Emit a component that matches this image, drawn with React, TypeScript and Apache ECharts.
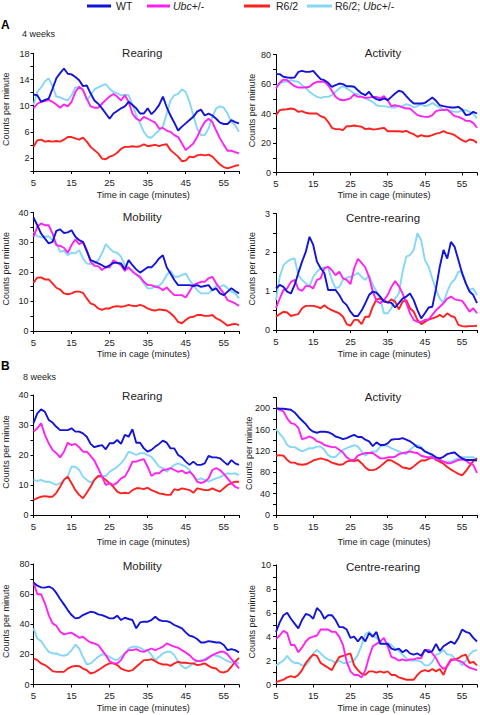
import React, { useEffect, useRef } from "react";
import * as echarts from "echarts";

const minutes = [5, 6, 7, 8, 9, 10, 11, 12, 13, 14, 15, 16, 17, 18, 19, 20, 21, 22, 23, 24, 25, 26, 27, 28, 29, 30, 31, 32, 33, 34, 35, 36, 37, 38, 39, 40, 41, 42, 43, 44, 45, 46, 47, 48, 49, 50, 51, 52, 53, 54, 55, 56, 57, 58, 59];
const xTickLabels = [5, 15, 25, 35, 45, 55];

const seriesNames = ["WT", "Ubc+/-", "R6/2", "R6/2; Ubc+/-"];
const panelTitles = ["Rearing", "Activity", "Mobility", "Centre-rearing", "Rearing", "Activity", "Mobility", "Centre-rearing"];
const yMaxes = [18, 80, 40, 3, 40, 220, 80, 10];
const yTickSteps = [2, 10, 5, 0.5, 5, 20, 10, 1];
const yLabelSteps = [4, 20, 10, 1, 10, 40, 20, 2];
const yLabelStarts = [2, 0, 0, 0, 0, 0, 0, 0];

// 4 weeks - Rearing
const w4RearWT = [11.7,11.6,10.6,10.9,11.1,12.6,14.2,15,15.7,14.9, 14.8,14.4,13.9,13,13.1,11.9,10.8,10.3,9.6,8.8, 8,8.8,9.2,9.6,9.9,10.6,10.1,9.6,8.8,8.8, 9.6,8.7,9.3,10.1,11.4,9.8,8.5,7.4,6.2,6.8, 7.3,7.8,8.3,9.1,9.4,8.5,8.8,8.5,8,7.4, 7.2,7.2,7.8,7.5,7.3];
const w4RearUbc = [9.6,10.3,10.6,10.7,10.9,10.6,10.2,9.7,10.2,9.9, 10.6,12.1,12.9,12.4,11.1,9.9,9.7,9.7,10.3,10.9, 11.4,11.8,11.4,10.8,11.6,10.6,8.8,8,7.7,8.3, 8,7.7,7.4,6.5,6.6,6.2,6,5.5,5.2,4.2, 3.2,3.7,4.2,5.2,6.5,7.5,8,7.5,6.2,5, 4,3.1,3.1,2.9,2.7];
const w4RearR62 = [3.7,4.7,4.8,4.5,4.6,4.5,4.6,4.5,4.8,5.2, 5.2,5,4.8,5.1,4.5,3.7,3.2,2.7,1.9,1.8, 2.2,2.4,2.8,3.4,3.7,3.7,3.8,3.7,3.8,4.1, 3.8,3.9,4,3.8,4,4.1,3.2,2.7,2.2,1.5, 1.6,2.2,2.1,2.4,2.5,2.4,2.5,2.2,1.6,1, 0.6,0.4,0.6,0.8,0.9];
const w4RearR62Ubc = [10.1,12.1,12.8,13.7,14.2,13,11.4,11.3,11,10.8, 11.6,12.8,12.8,12.5,10.8,11.6,12.5,12.8,13.1,13.3, 12.6,12.1,11.9,11.6,11.7,11.6,10.2,8.5,7.3,6, 5.2,5.1,5.7,6.2,6.8,8.8,10.8,11.6,11.8,12.5, 12.1,10.6,8.5,6.5,5.5,5.5,6.5,8.3,9.6,9.9, 9.7,8.8,7.5,7,6];

// 4 weeks - Activity
const w4ActWT = [66.7,66.7,64.9,64.4,64.2,64.4,68.2,68.9,68.2,68.2, 68.9,66,63.3,62.6,60.8,58.1,59.3,60.3,59.9,58.5, 58.5,58.1,55.8,53.6,52.4,54.7,51.3,49.7,49,50.2, 49,51.3,53.6,55.4,54.7,51.8,49,46.8,46.8,46.8, 47.2,49,50.8,48.6,45.6,45,44.5,44.1,44.1,44.5, 42.7,38.9,39.3,41.1,40];
const w4ActUbc = [57,60.8,63,62.6,60.3,58.5,57.6,57.6,57.6,58.1, 60.3,61.5,61.5,61.5,59.2,55.4,51.3,49.5,49,49.5, 50.2,52.9,51.3,51.3,50.6,50.8,51.3,51.3,50.2,51.8, 49,45,45.6,45,44.1,43.4,43.4,41.1,38.9,38.2, 37.7,37.7,38.9,41.6,42.3,42.3,42.7,40.5,38.2,37.7, 36.6,35,35,33.7,30.3];
const w4ActR62 = [38.9,42.3,42.7,42.9,43.4,42.9,41.1,41.6,40.5,40, 40,40,38.2,37.3,34.4,30.3,29.4,29.4,28.7,31.4, 31.4,31.9,31.4,31,29.4,29.8,29.2,29.4,29.8,30.3, 28,28,28,28,27.6,28.2,26.9,26,24.2,25.3, 24.6,24.6,25.3,26.4,26.9,28,26.9,26.4,25.3,23.5, 21.9,20.8,22.4,21.9,20.1];
const w4ActR62Ubc = [58.1,60.3,61.5,61.5,62.6,61.9,61.5,59.2,57.6,54.7, 52.9,51.3,50.6,51.3,51.3,52.4,54.7,57,58.5,57, 55.4,53.6,53.1,51.3,50.2,49,47.9,45.6,45,45, 44.5,44.1,44.1,45,45,46.3,45.6,44.1,45,46.3, 45,45.6,47.2,45.6,44.1,42.7,42.3,41.8,41.1,41.1, 42.3,42.3,41.1,40,36.6];

// 4 weeks - Mobility
const w4MobWT = [38.3,35.7,32.9,31.2,29.6,30.1,33.8,34.3,33.1,33.3, 34,31.8,30.7,30.1,27,23.9,23.4,22.8,22.2,21.5, 22.2,23,23,22.8,20.8,23.9,22.2,20.8,19.7,20.6, 21.5,21.5,22.8,24.5,25.6,21.5,19.4,17.2,15.5,15.5, 15.5,15.5,15.2,15.5,14.9,15.2,15.5,13.8,14.4,12.7, 12.1,13.3,14.4,13.5,12.7];
const w4MobUbc = [31.8,35.2,36.3,35.7,35.7,32.9,29,28.7,28.1,26.4, 29,30.9,29.3,30.1,27.3,23.4,22,21.9,20.6,21.5, 21.5,23.9,23,22.2,20.3,21.5,20,19.1,18.3,16.6, 15.5,15.5,14.9,14.7,13.8,14.7,13.3,12.1,12.1,12.1, 11.3,13.3,15.5,16.1,16.6,16.6,17.8,18.3,16.1,14.4, 12.7,10.4,9.9,9.3,8.5];
const w4MobR62 = [16.3,18,18.1,17.4,17.4,16.1,14.6,14,12.7,12.4, 12.7,13.3,13.3,12.9,11,9.3,8.8,7.6,7.1,7.6, 7.6,8.2,8.4,8.2,8.4,8.8,8.5,8.4,8.8,8.4, 7.6,7.1,6.9,7.3,7.1,6.9,6,4.8,3.1,2.6, 3.7,4.6,4.8,5.4,5.4,5.1,5.1,5.4,4.3,3.7, 2.8,1.8,2.2,2.4,2];
const w4MobR62Ubc = [33.5,32,31.6,31.8,32,30.7,29.6,26.7,27.1,25.6, 26.4,26.2,27.3,24.5,22.8,22.6,22.8,23.9,26.2,29.3, 27.9,26.7,26.4,25.1,22.2,21.1,20.6,18.9,17.8,16.1, 14.4,14.4,15.2,15.2,16.6,18.9,20.3,18.3,18.3,18.9, 19.4,17.2,15.5,13.8,12.7,12.7,12.7,13.8,15.2,14.9, 15.5,14.4,13.3,12.7,11];

// 4 weeks - Centre-rearing
const w4CenWT = [1.07,1.16,1.11,0.99,0.94,1.16,1.47,1.76,2.01,2.4, 2.19,1.76,1.59,1.46,1.03,1.03,1.03,0.9,0.73,0.64, 0.47,0.36,0.36,0.5,0.69,0.9,0.99,0.96,0.86,0.73, 0.71,0.7,0.58,0.69,0.81,0.86,0.94,0.77,0.51,0.3, 0.43,0.58,0.6,1.07,1.63,2.06,1.84,2.27,2.14,1.8, 1.46,1.2,0.99,0.9,0.69];
const w4CenUbc = [0.57,0.81,1.03,1.07,1.24,1.29,1.05,1.01,1.13,1.13, 1.07,1.29,1.33,1.59,1.63,1.54,1.41,1.5,1.33,1.29, 1.18,1.59,1.83,1.73,1.61,1.37,0.99,0.75,0.69,0.77, 0.9,1.11,1.26,1.13,0.94,0.7,0.43,0.26,0.21,0.21, 0.26,0.27,0.39,0.51,0.6,0.69,0.81,0.86,0.79,0.77, 0.75,0.62,0.47,0.56,0.43];
const w4CenR62 = [0.34,0.41,0.47,0.45,0.36,0.39,0.41,0.56,0.62,0.62, 0.62,0.6,0.56,0.64,0.56,0.51,0.47,0.43,0.34,0.15, 0.11,0.26,0.26,0.15,0.34,0.34,0.6,0.79,0.81,0.77, 0.7,0.79,0.73,0.53,0.73,0.77,0.56,0.47,0.26,0.15, 0.21,0.27,0.3,0.33,0.39,0.33,0.43,0.36,0.33,0.13, 0.1,0.09,0.1,0.1,0.11];
const w4CenR62Ubc = [0.77,1.37,1.67,1.76,1.82,1.84,1.41,1.29,1.2,1.13, 1.37,1.5,1.59,1.61,1.61,1.29,1.07,1.11,1.29,1.35, 1.37,1.41,1.47,1.37,1.29,1.41,1.16,0.99,0.81,0.43, 0.43,0.56,0.81,0.94,1.5,1.89,1.93,2.06,2.49,2.31, 1.8,1.63,1.33,1.03,0.81,0.7,0.99,1.2,1.3,1.5, 1.5,1.2,1.03,1.07,0.9];

// 8 weeks - Rearing
const w8RearWT = [30.6,33.9,35.2,34.4,31.7,30.8,29.4,28.3,28.3,28.3, 28.9,27.8,27.8,27.2,26.1,23.7,22.6,23,23.3,21.9, 23.9,23.9,25,23.7,26.7,26.1,28.6,24.1,24.1,22.2, 21.1,21.7,22.8,23.7,24.8,24.1,22.2,22.2,20,19.2, 17.8,16.7,17.8,16.7,16.7,17.2,19.7,19.2,19.2,18.9, 17.8,16.7,18.3,17.2,16.7];
const w8RearUbc = [27.8,28.9,30.6,26.7,23.9,21.7,20.6,19.2,21.1,24.1, 23.3,23.7,22.6,21.1,21.1,19.7,18.1,15.6,12.8,10, 10.6,10,10.8,12.2,12.8,15,17.8,17.8,18.3,18.6, 16.1,13,13.9,13.9,15,15.2,15.6,15,14.4,14.8, 13.9,14.4,13.3,11.1,10.6,11.1,12.2,15,15.6,15, 13.7,12.2,10.6,9.4,8.9];
const w8RearR62 = [5,5.6,6.1,6.3,6.1,6.1,7.4,9.4,11.7,12.8, 10.6,8.3,6.7,5.6,7.4,9.4,11.7,13,12.8,11.7, 10.6,9.4,7.8,7.2,7.4,7.2,8.3,8.9,8.9,8.6, 9.1,8.3,7.8,7.2,7,6.7,6.7,8.6,8.3,8.9, 8.6,8.3,7.4,8.9,8.6,8.3,8.3,8.9,8.3,7.8, 8.9,10,10.6,11.1,11.1];
const w8RearR62Ubc = [11.7,11.4,11.7,11.1,11.1,10.6,10,10.6,11.7,13, 16.1,16.1,15,12.8,11.7,10.8,11.7,12.8,13,13, 14.4,15.2,16.1,17.2,18.9,21.1,20.6,20,20.6,20.6, 20,19.4,17.8,16.1,15.6,14.4,15.6,16.7,17.2,16.7, 16.1,15,12.8,11.7,12.2,11.7,11.1,11.7,12.2,12.6, 13.3,13.9,13.7,13.9,13.3];

// 8 weeks - Activity
const w8ActWT = [200,199,199,198,197,192,184,177,170,161, 156,154,156,156,155,152,147,145,142,144, 147,150,146,146,141,138,129,136,131,131, 134,141,142,142,144,141,138,133,127,125, 119,116,113,108,106,109,114,116,117,111, 106,103,103,103,102];
const w8ActUbc = [200,197,194,181,172,170,163,142,144,147, 144,138,136,131,129,127,127,122,117,108, 103,103,111,114,116,116,116,111,106,106, 108,108,109,114,116,117,119,117,116,111, 109,108,108,104,103,100,97,97,100,103, 104,102,97,94,79];
const w8ActR62 = [111,112,111,103,98,98,95,94,95,98, 102,104,106,104,102,98,96,94,95,100, 102,101,103,97,89,84,84,86,91,97, 103,102,98,94,89,88,86,91,97,102, 102,105,108,103,100,96,90,85,81,77, 74,82,92,101,106];
const w8ActR62Ubc = [161,152,144,131,127,127,123,119,122,125, 125,128,128,122,112,108,109,116,122,125, 128,131,128,119,111,116,119,119,128,131, 129,125,122,119,116,114,122,128,131,127, 119,116,109,106,103,100,100,100,103,106, 108,108,108,108,104];

// 8 weeks - Mobility
const w8MobWT = [67.8,65.6,64.5,64.3,65,63.9,60.8,56.8,53.2,49.4, 46.1,43.9,44.3,46.1,47.2,48.3,47.9,46.6,46.1,45, 43.9,43.9,45.7,42.8,44.3,43.5,42.8,37.3,41.2,41.7, 41.7,42.8,45,42.8,42.1,42.1,41.2,39.5,38.4,37.3, 34.6,32.4,31.7,30.2,27.9,27.9,28.8,28.4,27.9,27.9, 26.2,22.8,23.5,22.8,21.3];
const w8MobUbc = [67.8,59.9,59.9,53.9,46.1,40.6,39,35,33.3,33.9, 34.4,32.8,31,31.7,29.5,27.9,27.3,26.2,22.8,19.5, 15.5,14,14,16.2,20.6,22.8,22.8,23.5,22.2,21.7, 22.8,23.9,22.8,23.9,25.1,27.3,26.2,25.1,24.4,22.8, 21.3,19.5,16.9,15.5,15.5,16.2,17.7,19.5,20.6,21.7, 21.7,20,16.9,14,10.6];
const w8MobR62 = [17.3,16.2,14,12.9,11.1,8.9,8.4,8.4,8.4,10.6, 11.8,12.4,12.2,10.6,9.5,7.3,8,9.5,11.1,12.9, 14,14,12.9,10.6,9.5,8.9,9.5,11.8,14,16.2, 16.2,16.9,15.5,14,13.3,13.3,12.4,14,15.1,14.4, 14.4,14,14,12.9,13.3,14,12.4,11.1,10.6,8.4, 8,8.9,11.8,15.1,17.7];
const w8MobR62Ubc = [37.3,30.6,28.8,25.1,21.7,20.6,20.6,19.5,19.1,20, 22.8,26.6,23.9,18.4,13.3,14,16.2,18.4,20,19.5, 18.4,16.9,16.2,18.4,20.6,23.9,25.1,25.1,24.4,22.8, 22.8,19.5,16.2,18.4,20.6,21.7,21.7,19.5,15.1,12.2, 10.6,12.2,14,15.5,16.2,16.9,18.4,19.5,19.1,18.4, 16.9,15.5,14.6,15.1,14];

// 8 weeks - Centre-rearing
const w8CenWT = [4.4,5.2,5.8,6,5.5,5.1,4.7,5.4,5.9,5.8, 5.5,6.4,6.1,5.5,5.8,5.8,5.4,4.8,4.8,4.6, 3.9,4,3.6,4,3.6,4.3,4,4.4,3.4,3.4, 3.4,3,2.9,3,2.7,2.9,2.6,2.5,2.6,2.4, 2.9,2.7,2.8,3.4,2.8,3.2,3.4,3.6,3.4,3.9, 4.6,4.4,4.3,3.9,3.6];
const w8CenUbc = [3.8,4.1,4.5,4.3,3.3,3.3,2.7,3.1,3.6,3.9, 4,4.1,4.6,4.6,4.6,4.4,4.4,4,3.3,1.9, 1.1,0.8,0.8,0.6,1.2,2.3,3.2,3.4,3.6,3.9, 3.2,2.3,2.2,2,2.1,2,2.1,2.1,2.2,2.2, 2.9,2.9,2.6,2.2,1.6,1.3,1.5,2,2.1,2, 1.9,1.6,1.4,1.3,1.2];
const w8CenR62 = [0.2,0.3,0.4,0.6,0.7,0.6,0.8,1.2,1.8,2.2, 2.5,2.4,1.8,1.6,1.4,1.2,1.8,2.3,2.4,2.5, 2.6,1.6,1.2,0.9,0.8,1.1,1.1,1,1.1,1, 1.1,0.8,0.8,0.6,0.5,0.4,0.4,0.4,0.8,1.1, 1.2,1.1,1.3,1.1,1.3,0.8,1.6,2.1,2.1,2.2, 2.4,2.5,1.8,1.9,1.6];
const w8CenR62Ubc = [1.6,1.8,2,2.4,2,1.8,1.8,1.6,1.6,2, 2.6,2.9,2.6,2.3,2.1,2,1.8,2,1.8,1.8, 1.9,2,2.5,3.3,4.2,4.4,4.1,3.9,3.6,3.4, 3.5,3.3,3,2.8,2.5,2.2,2,2,2,1.9, 1.6,1.6,1.9,2.5,2.6,2.9,2.5,2.5,2.2,2, 1.6,2,2.5,2.8,2.9];

const panelData = [
  [w4RearWT, w4RearUbc, w4RearR62, w4RearR62Ubc],
  [w4ActWT, w4ActUbc, w4ActR62, w4ActR62Ubc],
  [w4MobWT, w4MobUbc, w4MobR62, w4MobR62Ubc],
  [w4CenWT, w4CenUbc, w4CenR62, w4CenR62Ubc],
  [w8RearWT, w8RearUbc, w8RearR62, w8RearR62Ubc],
  [w8ActWT, w8ActUbc, w8ActR62, w8ActR62Ubc],
  [w8MobWT, w8MobUbc, w8MobR62, w8MobR62Ubc],
  [w8CenWT, w8CenUbc, w8CenR62, w8CenR62Ubc],
];

const COLORS = ["#1414d8", "#ff22f0", "#ff2020", "#86d6f6"];
const FONT = '"Liberation Sans", Arial, Helvetica, sans-serif';
const TEXT = "#222";

const LAYOUT = [
  { left: 33.5, top: 53.5, width: 205.5, height: 117.5, titleY: 53, nameY: 195, yMargin: 4, nameX: 5.5 },
  { left: 276, top: 54.5, width: 202, height: 118, titleY: 52.5, nameY: 195, yMargin: 5, nameX: 251.5 },
  { left: 33.5, top: 212.5, width: 205.5, height: 118.5, titleY: 217, nameY: 354, yMargin: 5, nameX: 5.5 },
  { left: 276, top: 213.5, width: 202, height: 116.5, titleY: 217.5, nameY: 354, yMargin: 6, nameX: 251.5 },
  { left: 33.5, top: 395, width: 205.5, height: 120, titleY: 396, nameY: 542, yMargin: 5, nameX: 5.5 },
  { left: 276, top: 397.5, width: 202, height: 117.5, titleY: 397, nameY: 542, yMargin: 6, nameX: 249 },
  { left: 33.5, top: 564, width: 205.5, height: 120.5, titleY: 566, nameY: 708, yMargin: 4, nameX: 5.5 },
  { left: 276, top: 565, width: 202, height: 119.5, titleY: 567, nameY: 708, yMargin: 5, nameX: 251.5 },
];

function isMultiple(v: number, start: number, step: number) {
  const q = (v - start) / step;
  return q >= -1e-9 && Math.abs(q - Math.round(q)) < 1e-6;
}

function buildOption() {
  const grid: any[] = [];
  const xAxis: any[] = [];
  const yAxis: any[] = [];
  const series: any[] = [];
  const graphic: any[] = [];

  LAYOUT.forEach((L, i) => {
    grid.push({ left: L.left, top: L.top, width: L.width, height: L.height, containLabel: false });
    xAxis.push({
      type: "value",
      gridIndex: i,
      min: minutes[0],
      max: minutes[minutes.length - 1],
      interval: xTickLabels[1] - xTickLabels[0],
      axisLine: { show: true, onZero: false, lineStyle: { color: "#000", width: 1 } },
      axisTick: { show: true, length: 3, lineStyle: { color: "#000", width: 1 } },
      axisLabel: {
        margin: 6,
        fontSize: 9.5,
        color: TEXT,
        fontFamily: FONT,
        formatter: (v: number) => (xTickLabels.indexOf(v) >= 0 ? String(v) : ""),
      },
      splitLine: { show: false },
    });
    yAxis.push({
      type: "value",
      gridIndex: i,
      min: 0,
      max: yMaxes[i],
      interval: yTickSteps[i],
      axisLine: { show: true, lineStyle: { color: "#000", width: 1 } },
      axisTick: { show: true, length: 3, lineStyle: { color: "#000", width: 1 } },
      axisLabel: {
        margin: L.yMargin,
        fontSize: 9,
        color: TEXT,
        fontFamily: FONT,
        formatter: (v: number) => (isMultiple(v, yLabelStarts[i], yLabelSteps[i]) ? String(v) : ""),
      },
      splitLine: { show: false },
    });
    const order = [3, 2, 1, 0];
    order.forEach((s) => {
      series.push({
        type: "line",
        name: seriesNames[s],
        xAxisIndex: i,
        yAxisIndex: i,
        data: minutes.map((m, k) => [m, panelData[i][s][k]]),
        showSymbol: false,
        symbol: "none",
        smooth: false,
        lineStyle: { color: COLORS[s], width: 1.9 },
        itemStyle: { color: COLORS[s] },
        z: 2 + (3 - s),
      });
    });

    graphic.push({
      type: "text",
      x: L.left + L.width / 2 + 6,
      y: L.titleY,
      style: { text: panelTitles[i], fontSize: 11.5, fontFamily: FONT, fill: TEXT, align: "center", verticalAlign: "middle" },
    });
    graphic.push({
      type: "text",
      x: L.left + L.width / 2 + 7,
      y: L.nameY,
      style: { text: "Time in cage (minutes)", fontSize: 9.2, fontFamily: FONT, fill: TEXT, align: "center", verticalAlign: "middle" },
    });
    graphic.push({
      type: "text",
      x: L.nameX,
      y: L.top + L.height / 2 - 3,
      rotation: Math.PI / 2,
      style: { text: "Counts per minute", fontSize: 9, fontFamily: FONT, fill: TEXT, align: "center", verticalAlign: "middle" },
    });
  });

  graphic.push({ type: "text", x: 1, y: 25, style: { text: "A", fontSize: 12, fontWeight: "bold", fontFamily: FONT, fill: "#000", align: "left", verticalAlign: "middle" } });
  graphic.push({ type: "text", x: 22, y: 34, style: { text: "4 weeks", fontSize: 9, fontFamily: FONT, fill: TEXT, align: "left", verticalAlign: "middle" } });
  graphic.push({ type: "text", x: 1, y: 366, style: { text: "B", fontSize: 12, fontWeight: "bold", fontFamily: FONT, fill: "#000", align: "left", verticalAlign: "middle" } });
  graphic.push({ type: "text", x: 23, y: 377, style: { text: "8 weeks", fontSize: 9, fontFamily: FONT, fill: TEXT, align: "left", verticalAlign: "middle" } });

  const legendItems = [
    { x1: 87, x2: 111, tx: 116, text: "WT" },
    { x1: 147, x2: 170, tx: 173, text: "{i|Ubc}+/-" },
    { x1: 244, x2: 270, tx: 276, text: "R6/2" },
    { x1: 307, x2: 332, tx: 335, text: "R6/2; {i|Ubc}+/-" },
  ];
  legendItems.forEach((it, s) => {
    graphic.push({
      type: "line",
      shape: { x1: it.x1, y1: 6, x2: it.x2, y2: 6 },
      style: { stroke: COLORS[s], lineWidth: 3 },
    });
    graphic.push({
      type: "text",
      x: it.tx,
      y: 6,
      style: {
        text: it.text,
        fontSize: 10.5,
        fontFamily: FONT,
        fill: TEXT,
        align: "left",
        verticalAlign: "middle",
        rich: { i: { fontStyle: "italic", fontSize: 10.5, fontFamily: FONT, fill: TEXT } },
      },
    });
  });

  return {
    animation: false,
    backgroundColor: "#fff",
    grid,
    xAxis,
    yAxis,
    series,
    graphic,
  };
}

export default function App() {
  const ref = useRef<HTMLDivElement>(null);
  useEffect(() => {
    if (!ref.current) return;
    const chart = echarts.init(ref.current, null, { renderer: "svg" });
    chart.setOption(buildOption() as any);
    return () => chart.dispose();
  }, []);
  return (
    <div
      ref={ref}
      style={{ position: "absolute", left: 0, top: 0, width: 480, height: 715, background: "#fff" }}
    />
  );
}
